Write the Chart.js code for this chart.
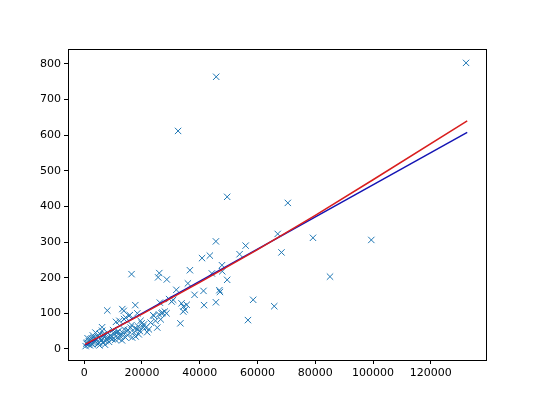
<!DOCTYPE html>
<html>
<head>
<meta charset="utf-8">
<script src="https://cdn.jsdelivr.net/npm/chart.js@4"></script>
<style>
  html, body { margin: 0; padding: 0; background: #fff; }
  #wrap { width: 540px; height: 405px; }
</style>
</head>
<body>
<div id="wrap"><canvas id="chart" width="540" height="405"></canvas></div>
<script>
// scatter samples (x, y)
const sampleX = [
  132200, 45700, 32500, 49500, 70500,
  45600, 55900, 67000, 79200, 99400, 85100,
  53800, 68300, 40800, 43500, 36600, 47700, 44200, 47800, 35900, 49500,
  38200, 41300, 46800, 47000, 58500, 65800, 56700, 33300, 45600, 41500,
  33700, 34400, 35500, 34900, 34300,
  16400, 26000, 25600, 28600, 31900, 30800, 30300, 29400, 26200, 17700,
  8000, 13200, 13700, 15800, 18400,
  11000, 12200, 13800, 14400, 15500,
  19500, 20700, 21300, 21800, 19900,
  24100, 25900, 27100, 28500, 27900, 26800, 23900,
  23000, 24700, 26500, 22400, 25300,
  6200, 16400, 17600, 18700, 10000, 11800, 13500, 15200,
  1000, 2200, 3400, 4500, 5700, 6800, 8000, 9100, 10300, 11400,
  12600, 13800, 14900, 16100, 17200, 18400, 18900, 16600, 14300, 12000,
  9700, 7400, 5100, 2800, 1600, 3900, 6200, 500, 3400, 8000,
  1500, 2500, 4000, 6000, 7000, 9000, 11000, 1200, 3000, 5500,
  800, 2000, 3600, 4800, 6500, 7800, 8600, 9500, 10800, 12300,
  13100, 15000, 17800, 19300, 20300, 4200, 5300, 2600, 1900, 7200
];
const sampleY = [
  803, 764, 612, 427, 410,
  302, 290, 323, 312, 306, 203,
  266, 271, 255, 262, 221, 235, 212, 218, 184, 194,
  152, 163, 165, 160, 138, 120, 81, 72, 131, 123,
  128, 119, 124, 110, 105,
  210, 213, 201, 195, 166, 138, 133, 140, 130, 123,
  108, 112, 107, 95, 100,
  76, 79, 84, 88, 93,
  79, 69, 60, 47, 72,
  93, 97, 102, 100, 105, 100, 95,
  74, 79, 83, 55, 60,
  61, 67, 58, 63, 53, 49, 44, 53,
  18, 27, 32, 36, 29, 41, 46, 38, 44, 48,
  41, 55, 51, 60, 46, 55, 41, 32, 32, 29,
  27, 22, 18, 13, 22, 46, 51, 8, 18, 32,
  12, 20, 25, 24, 35, 30, 35, 30, 38, 42,
  15, 10, 22, 14, 17, 26, 20, 34, 26, 37,
  24, 39, 35, 50, 62, 28, 10, 30, 16, 12
];

// fitted lines
const blueLineX = [300, 132600];
const blueLineY = [11, 608];
const redLineX = [300, 20000, 40000, 60000, 80000, 100000, 132600];
const redLineY = [13, 98, 187, 279, 375, 475, 640];

const xTicks = [0, 20000, 40000, 60000, 80000, 100000, 120000];
const yTicks = [0, 100, 200, 300, 400, 500, 600, 700, 800];

const toPoints = (xs, ys) => xs.map((x, i) => ({ x: x, y: ys[i] }));

const frame = {
  id: "frame",
  afterDraw(chart) {
    const a = chart.chartArea;
    const ctx = chart.ctx;
    ctx.save();
    ctx.strokeStyle = "#000";
    ctx.lineWidth = 1;
    ctx.strokeRect(Math.round(a.left) + 0.5, Math.round(a.top) + 0.5,
      Math.round(a.right - a.left), Math.round(a.bottom - a.top));
    ctx.restore();
  }
};

const tickFont = { family: "DejaVu Sans", size: 11 };

new Chart(document.getElementById("chart"), {
  type: "scatter",
  data: {
    datasets: [
      {
        data: toPoints(redLineX, redLineY),
        showLine: true,
        borderColor: "#d91e1e",
        borderWidth: 1.5,
        pointRadius: 0,
        order: 1
      },
      {
        data: toPoints(blueLineX, blueLineY),
        showLine: true,
        borderColor: "#1414b4",
        borderWidth: 1.5,
        pointRadius: 0,
        order: 2
      },
      {
        data: toPoints(sampleX, sampleY),
        pointStyle: "crossRot",
        pointRadius: 4.5,
        borderColor: "#1f77b4",
        borderWidth: 1,
        order: 3
      }
    ]
  },
  options: {
    responsive: false,
    animation: false,
    layout: { padding: { top: 49, right: 54, left: 0, bottom: 0 } },
    plugins: { legend: { display: false }, tooltip: { enabled: false } },
    scales: {
      x: {
        type: "linear",
        min: -5600,
        max: 139100,
        afterBuildTicks: s => { s.ticks = xTicks.map(v => ({ value: v })); },
        afterFit: s => { s.height = 45; },
        border: { display: false },
        grid: { drawOnChartArea: false, tickLength: 4, color: "#000" },
        ticks: { color: "#000", font: tickFont, padding: 3, maxRotation: 0, callback: v => String(v) }
      },
      y: {
        type: "linear",
        min: -31,
        max: 842,
        afterBuildTicks: s => { s.ticks = yTicks.map(v => ({ value: v })); },
        afterFit: s => { s.width = 68; },
        border: { display: false },
        grid: { drawOnChartArea: false, tickLength: 4, color: "#000" },
        ticks: { color: "#000", font: tickFont, padding: 3, callback: v => String(v) }
      }
    }
  },
  plugins: [frame]
});
</script>
</body>
</html>
